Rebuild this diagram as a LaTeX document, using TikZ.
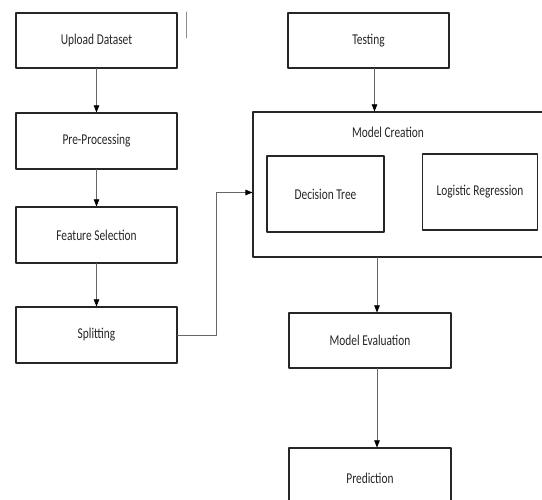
\documentclass[tikz,border=0pt]{standalone}
\usepackage{fontspec}
\setmainfont{Carlito}
\usetikzlibrary{calc}
\usetikzlibrary{arrows.meta,positioning}

\newcommand{\boxtext}[1]{\scalebox{0.76}[1]{#1}}

\begin{document}
\begin{tikzpicture}[
  x=1pt,y=-1pt,
  line cap=round,
  line join=round,
  stage/.style={draw=black!85,line width=1.1pt,rectangle,inner sep=0pt,
    font=\fontsize{15}{17}\selectfont,text=black!85},
  frame/.style={draw=black!85,line width=1.1pt,rectangle,inner sep=0pt},
  title/.style={font=\fontsize{15}{17}\selectfont,text=black!85,inner sep=0pt},
  arr/.style={draw=black!60,line width=0.6pt,-{Triangle[length=7pt,width=5.5pt,color=black]}},
  stray/.style={draw=black!45,line width=0.6pt}
]
  % Bounding box
  \useasboundingbox (0,0) rectangle (542,500);

  % Left column
  \node[stage,minimum width=161pt,minimum height=55pt] (upload)  at (96.5,40.5)  {\boxtext{Upload Dataset}};
  \node[stage,minimum width=161pt,minimum height=56pt] (preproc) at (96.5,141)   {\boxtext{Pre-Processing}};
  \node[stage,minimum width=161pt,minimum height=56pt] (feature) at (96.5,235)   {\boxtext{Feature Selection}};
  \node[stage,minimum width=161pt,minimum height=56pt] (split)   at (96.5,335)   {\boxtext{Splitting}};

  % Stray tick
  \coordinate (tickt) at (186,12);
  \coordinate (tickb) at (186,38);
  \draw[stray] (tickt) -- (tickb);

  % Right column
  \node[stage,minimum width=161pt,minimum height=55pt] (testing) at (368.5,40.5) {\boxtext{Testing}};
  \node[frame,minimum width=294pt,minimum height=145pt] (creation) at (400,184.5) {};
  \node[title] (creationlabel) at (388,132) {\boxtext{Model Creation}};
  \node[stage,minimum width=117pt,minimum height=76pt] (dtree)  at (325.5,194) {\boxtext{Decision Tree}};
  \node[stage,minimum width=115pt,minimum height=76pt] (logreg) at (480,192)   {\boxtext{Logistic Regression}};
  \node[stage,minimum width=162pt,minimum height=55pt] (evaluation) at (370,340.5) {\boxtext{Model Evaluation}};
  \node[stage,minimum width=162pt,minimum height=60pt] (prediction) at (370,478)   {\boxtext{Prediction}};

  % Arrows
  \draw[arr] (upload) -- (preproc);
  \draw[arr] (preproc) -- (feature);
  \draw[arr] (feature) -- (split);
  \draw[arr] (split.east) -- ++(39,0) |- ([yshift=-8pt]creation.west);
  \draw[arr] ([xshift=6pt]testing.south) -- ([xshift=6pt]testing.south |- creation.north);
  \draw[arr] ([xshift=7pt]evaluation.north |- creation.south) -- ([xshift=7pt]evaluation.north);
  \draw[arr] ([xshift=7pt]evaluation.south) -- ([xshift=7pt]prediction.north);
\end{tikzpicture}
\end{document}
